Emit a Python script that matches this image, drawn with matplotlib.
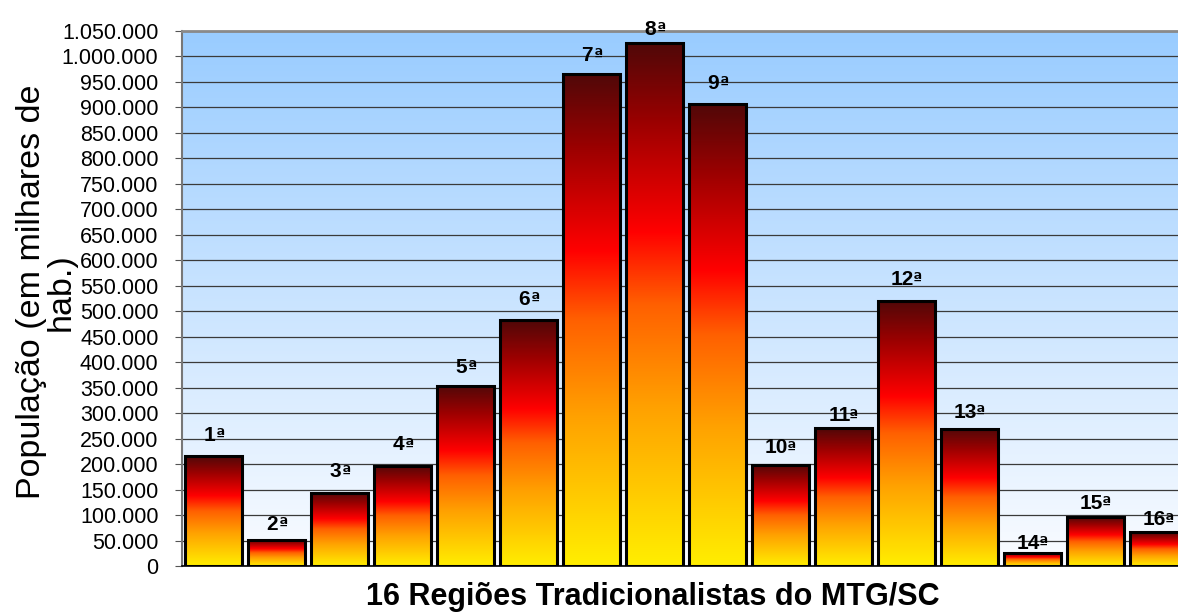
import matplotlib
matplotlib.use("Agg")
import matplotlib.pyplot as plt
import numpy as np
from matplotlib.colors import LinearSegmentedColormap
from matplotlib.ticker import MultipleLocator, FuncFormatter

plt.rcParams['font.family'] = ['Liberation Sans', 'DejaVu Sans']

# population per traditionalist region (MTG/SC)
regioes = ["1", "2", "3", "4", "5", "6", "7", "8",
           "9", "10", "11", "12", "13", "14", "15", "16"]
populacao = [215000, 52000, 144000, 197000, 354000, 482000, 966000, 1026000,
             907000, 199000, 270000, 521000, 269000, 26000, 96000, 66000]

# vertical gap (points) between each bar top and its label
label_gap = [11, 7, 11, 11, 9, 11, 9, 6, 10.5, 8, 5, 11, 8, 2.5, 6, 5]

fig = plt.figure(figsize=(11.78, 6.14), dpi=100)
ax = fig.add_axes([182 / 1178, 1 - 566 / 614, 1008 / 1178, 535 / 614])

ymax = 1050000
n = len(regioes)
x = np.arange(n)

# sky background: light blue at the top fading to white
sky = LinearSegmentedColormap.from_list("sky", ["#FAFCFF", "#99CCFF"])
bg = np.linspace(0, 1, 256).reshape(-1, 1)
ax.imshow(bg, extent=[-0.5, n - 0.5, 0, ymax], origin="lower",
          aspect="auto", cmap=sky, zorder=0)

# bars: yellow at the base, through orange and red, to dark red on top
fire = LinearSegmentedColormap.from_list("fire", [
    (0.0, "#FFEE00"),
    (0.3, "#FFA200"),
    (0.5, "#FF6000"),
    (0.64, "#FF0000"),
    (0.84, "#A00000"),
    (1.0, "#500808"),
])
grad = np.linspace(0, 1, 256).reshape(-1, 1)

bars = ax.bar(x, populacao, width=0.92, facecolor="none",
              edgecolor="black", linewidth=2.2, zorder=3)
for bar in bars:
    x0, w, h = bar.get_x(), bar.get_width(), bar.get_height()
    im = ax.imshow(grad, extent=[x0, x0 + w, 0, h], origin="lower",
                   aspect="auto", cmap=fire, zorder=2)
    im.set_clip_path(bar)

# ordinal labels: number in Liberation, underlined "ª" from DejaVu
# attached to the right edge of the number
fs = 15
ord_w = 0.5 * fs * 0.8
for bar, num, gap in zip(bars, regioes, label_gap):
    xc = bar.get_x() + bar.get_width() / 2
    t = ax.annotate(num, (xc, bar.get_height()), xytext=(-ord_w / 2, gap),
                    textcoords="offset points", ha="center", va="baseline",
                    fontsize=fs, fontweight="bold", zorder=4)
    # two-digit numbers come out with a little extra trailing space
    nudge = 0.6 - 1.6 * (len(num) - 1)
    ax.annotate("ª", xy=(1, 0), xycoords=t, xytext=(nudge, 0),
                textcoords="offset points", ha="left", va="bottom",
                fontsize=fs * 0.8, fontweight="bold", family="DejaVu Sans",
                zorder=4)

ax.set_xlim(-0.5, n - 0.5)
ax.set_ylim(0, ymax)
ax.yaxis.set_major_locator(MultipleLocator(50000))
ax.yaxis.set_major_formatter(FuncFormatter(lambda v, p: f"{v:,.0f}".replace(",", ".")))
ax.grid(axis="y", color="#3A3A3A", linewidth=0.9, zorder=1)
ax.set_axisbelow(True)
ax.set_xticks([])
ax.tick_params(axis="y", labelsize=15.5, length=5, pad=12, color="#555555")

ax.spines["top"].set_color("#8A8A8A")
ax.spines["top"].set_linewidth(2)
ax.spines["left"].set_color("#777777")
ax.spines["left"].set_linewidth(1.5)
ax.spines["bottom"].set_color("black")
ax.spines["bottom"].set_linewidth(1.2)
ax.spines["right"].set_visible(False)

fig.text(46 / 1178, 1 - 292 / 614, "População (em milhares de\nhab.)",
         rotation=90, ha="center", va="center", multialignment="center",
         fontsize=24.5, linespacing=0.95)
fig.text(653 / 1178, 1 - 597 / 614, "16 Regiões Tradicionalistas do MTG/SC",
         ha="center", va="center", fontsize=22, fontweight="bold")

fig.savefig("out.png", dpi=100)
